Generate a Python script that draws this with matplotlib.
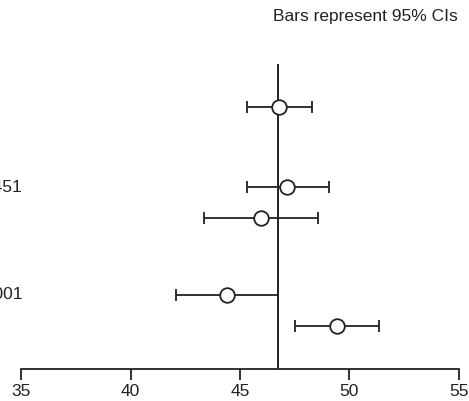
import matplotlib
matplotlib.use("Agg")
import matplotlib.pyplot as plt
from matplotlib.transforms import blended_transform_factory

# estimates and 95% CIs, top to bottom
rows = [1.38, 3.98, 4.98, 7.45, 8.44]
means = [46.8, 47.16, 45.95, 44.4, 49.43]
lower = [45.3, 45.32, 43.35, 42.07, 47.53]
upper = [48.3, 49.07, 48.58, 46.72, 51.36]
overall = 46.75
row_labels = {3.98: "P = 0.451", 7.45: "P < 0.001"}
xticks = [35, 40, 45, 50, 55]

plt.rcParams['font.family'] = ['Liberation Sans', 'DejaVu Sans']
ink = "#222222"

fig = plt.figure(figsize=(4.69, 4.01), dpi=100)
ax = fig.add_axes([0.0454, 0.0798, 0.9326, 0.7606])

err = [[m - l for m, l in zip(means, lower)], [u - m for m, u in zip(means, upper)]]
ax.errorbar(means, rows, xerr=err, fmt='o', mfc='white', mec=ink, ms=10.5, mew=1.3,
            ecolor=ink, elinewidth=1.3, capsize=4, capthick=1.3, zorder=3)
ax.axvline(overall, color=ink, lw=1.4, zorder=2)

# row labels run off the left edge, as in the source figure
trans = blended_transform_factory(fig.transFigure, ax.transData)
for y, txt in row_labels.items():
    ax.text(22 / 469, y, txt, transform=trans, fontsize=12.5,
            ha='right', va='center', color=ink, clip_on=False)

ax.set_xlim(35, 55)
ax.set_ylim(9.84, 0)
ax.set_xticks(xticks)
ax.set_xticklabels([str(v) for v in xticks], fontsize=12.5, color=ink)
ax.tick_params(axis='x', length=8, width=1.3, color=ink, pad=3)
ax.set_yticks([])
for s in ['top', 'left', 'right']:
    ax.spines[s].set_visible(False)
ax.spines['bottom'].set_linewidth(1.3)
ax.spines['bottom'].set_color(ink)

fig.text(458 / 469, 1 - 16 / 401, "Bars represent 95% CIs", ha='right', va='center',
         fontsize=12.5, color=ink)

fig.savefig("out.png", dpi=100)
